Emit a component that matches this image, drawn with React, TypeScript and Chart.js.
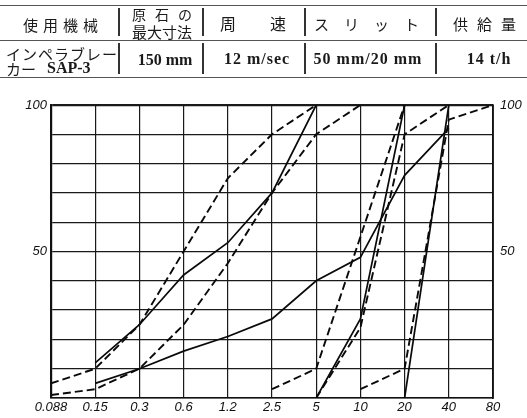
import React, { useEffect, useRef } from 'react';
import { Chart, registerables } from 'chart.js';

Chart.register(...registerables);

// ---- data ----
const categories = ['0.088', '0.15', '0.3', '0.6', '1.2', '2.5', '5', '10', '20', '40', '80'];
const yLabelValues = [50, 100];

const curveA = [5, 10, 25, 50, 75, 90, 100, null, null, null, null];
const curveB = [null, 12, 25, 42, 53, 70, 100, null, null, null, null];
const curveC = [1, 3, 10, 25, 46, 70, 90, 100, null, null, null];
const curveD = [null, 5, 10, 16, 21, 27, 40, 48, 76, 92, null];
const curveE = [null, null, null, null, null, 3, 10, 55, 100, null, null];
const curveF = [null, null, null, null, null, null, 0, 27, 100, null, null];
const curveG = [null, null, null, null, null, null, 0, 24, 90, 100, null];
const curveH = [null, null, null, null, null, null, null, 3, 10, 95, 100];
const curveI = [null, null, null, null, null, null, null, null, 0, 100, null];

const headerTexts = ['使用機械', '原石の', '最大寸法', '周', '速', 'スリット', '供給量'];
const rowTexts = ['インペラブレー', 'カー', 'SAP-3', '150 mm', '12 m/sec', '50 mm/20 mm', '14 t/h'];

const series: { values: (number | null)[]; dashed: boolean }[] = [
  { values: curveA, dashed: true },
  { values: curveB, dashed: false },
  { values: curveC, dashed: true },
  { values: curveD, dashed: false },
  { values: curveE, dashed: true },
  { values: curveF, dashed: false },
  { values: curveG, dashed: true },
  { values: curveH, dashed: true },
  { values: curveI, dashed: false },
];

const cjk = '"Noto Sans CJK JP", "Noto Sans CJK SC", sans-serif';
const serif = '"Liberation Serif", "DejaVu Serif", serif';

function T(props: { x: number; y: number; text: string; size: number; font: string; ls?: number; bold?: boolean; center?: boolean }) {
  return (
    <div
      style={{
        position: 'absolute',
        left: props.x,
        top: props.y,
        transform: props.center ? 'translate(-50%, -50%)' : 'translate(0, -50%)',
        fontFamily: props.font,
        fontSize: props.size,
        letterSpacing: props.ls ? props.ls : 0,
        fontWeight: props.bold ? 700 : 400,
        whiteSpace: 'nowrap',
        color: '#1a1a1a',
        lineHeight: 1,
      }}
    >
      {props.text}
    </div>
  );
}

export default function App() {
  const ref = useRef<HTMLCanvasElement>(null);

  useEffect(() => {
    document.body.style.margin = '0';
    const toPts = (arr: (number | null)[]) =>
      arr
        .map((v, i) => (v === null ? null : { x: i, y: v }))
        .filter((p) => p !== null) as { x: number; y: number }[];

    const tickFont = { family: '"Liberation Sans", "DejaVu Sans", sans-serif', size: 13, style: 'italic' as const };
    const yCallback = (v: any) => (yLabelValues.includes(Number(v)) ? String(v) : '');

    const chart = new Chart(ref.current as HTMLCanvasElement, {
      type: 'line',
      data: {
        datasets: series.map((s) => ({
          data: toPts(s.values),
          borderColor: '#0a0a0a',
          borderWidth: s.dashed ? 1.9 : 1.7,
          borderDash: s.dashed ? [8, 4] : [],
          pointRadius: 0,
          fill: false,
          tension: 0,
        })),
      },
      options: {
        animation: false,
        responsive: false,
        devicePixelRatio: 1,
        layout: { padding: { top: 105, left: 0, right: 0, bottom: 0 } },
        plugins: { legend: { display: false }, tooltip: { enabled: false } },
        scales: {
          x: {
            type: 'linear',
            min: 0,
            max: 10,
            afterFit: (s: any) => {
              s.height = 20;
            },
            ticks: {
              stepSize: 1,
              autoSkip: false,
              maxRotation: 0,
              padding: 2,
              color: '#111',
              font: tickFont,
              callback: (v: any) => categories[Number(v)] ?? '',
            },
            grid: {
              drawTicks: false,
              color: '#1a1a1a',
              lineWidth: (c: any) => (c.tick && (c.tick.value === 0 || c.tick.value === 10) ? 1.8 : 1.2),
            },
            border: { display: true, color: '#111', width: 1.6 },
          },
          y: {
            type: 'linear',
            position: 'left',
            min: 0,
            max: 100,
            afterFit: (s: any) => {
              s.width = 51;
            },
            ticks: { stepSize: 10, padding: 4, color: '#111', font: tickFont, callback: yCallback },
            grid: {
              drawTicks: false,
              color: '#1a1a1a',
              lineWidth: (c: any) => (c.tick && c.tick.value === 100 ? 2.2 : 1.3),
            },
            border: { display: true, color: '#111', width: 2.2 },
          },
          y2: {
            type: 'linear',
            position: 'right',
            min: 0,
            max: 100,
            afterFit: (s: any) => {
              s.width = 34;
            },
            ticks: { stepSize: 10, padding: 7, color: '#111', font: tickFont, callback: yCallback },
            grid: { display: false, drawTicks: false },
            border: { display: true, color: '#111', width: 1.6 },
          },
        },
      },
    });
    return () => chart.destroy();
  }, []);

  const hLine = (y: number) => (
    <div style={{ position: 'absolute', left: 0, top: y, width: 527, height: 1, background: '#555' }} />
  );
  const vSep = (x: number, y1: number, y2: number) => (
    <div style={{ position: 'absolute', left: x, top: y1, width: 2, height: y2 - y1, background: '#333' }} />
  );

  return (
    <div style={{ position: 'fixed', left: 0, top: 0, width: 527, height: 418, background: '#fff', overflow: 'hidden' }}>
      <canvas ref={ref} width={527} height={418} style={{ position: 'absolute', left: 0, top: 0, width: 527, height: 418 }} />
      {hLine(5)}
      {hLine(40)}
      {hLine(77)}
      {vSep(118, 8, 36)}
      {vSep(202, 8, 36)}
      {vSep(304, 8, 36)}
      {vSep(435, 8, 36)}
      {vSep(118, 43, 74)}
      {vSep(202, 43, 74)}
      {vSep(304, 43, 74)}
      {vSep(435, 43, 74)}
      <T x={23} y={24} text={headerTexts[0]} size={15} font={cjk} ls={5} />
      <T x={132} y={14} text={headerTexts[1]} size={14} font={cjk} ls={9} />
      <T x={132} y={31} text={headerTexts[2]} size={15} font={cjk} />
      <T x={220} y={23} text={headerTexts[3]} size={16} font={cjk} />
      <T x={270} y={23} text={headerTexts[4]} size={16} font={cjk} />
      <T x={314} y={23} text={headerTexts[5]} size={15} font={cjk} ls={15} />
      <T x={453} y={23} text={headerTexts[6]} size={15} font={cjk} ls={9} />
      <T x={6} y={53} text={rowTexts[0]} size={15} font={cjk} ls={1} />
      <T x={6} y={68} text={rowTexts[1]} size={15} font={cjk} />
      <T x={47} y={68} text={rowTexts[2]} size={16} font={serif} bold />
      <T x={165} y={60} text={rowTexts[3]} size={16} font={serif} bold center />
      <T x={257} y={59} text={rowTexts[4]} size={16} font={serif} bold ls={1} center />
      <T x={368} y={59} text={rowTexts[5]} size={16} font={serif} bold ls={1} center />
      <T x={489} y={59} text={rowTexts[6]} size={16} font={serif} bold ls={1} center />
    </div>
  );
}
